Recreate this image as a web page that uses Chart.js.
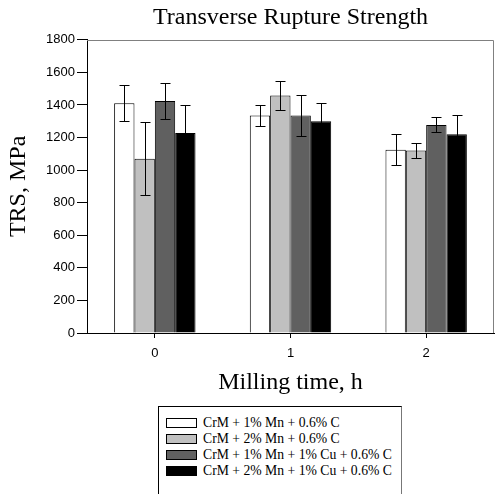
<!DOCTYPE html>
<html>
<head>
<meta charset="utf-8">
<script src="https://cdn.jsdelivr.net/npm/chart.js@4"></script>
<style>
  body { margin: 0; background: #fff; }
  #wrap { position: relative; width: 496px; height: 494px; overflow: hidden; }
  #legend {
    position: absolute; left: 158px; top: 406px; width: 244px; height: 100px;
    border: 1px solid #000; border-right-color: #777; box-sizing: border-box;
    font-family: "Liberation Serif", "Times New Roman", serif; font-size: 13.7px; color: #000;
    padding: 8px 0 0 7px;
  }
  .row { height: 16px; line-height: 16px; white-space: nowrap; }
  .sw { display: inline-block; width: 29px; height: 8px; border: 1px solid #000; vertical-align: -1px; margin-right: 6px; }
</style>
</head>
<body>
<div id="wrap">
  <canvas id="myChart" width="496" height="400"></canvas>
  <div id="legend"></div>
</div>
<script>
// Milling time categories
const labels = ['0', '1', '2'];

// Series names
const seriesNames = [
    'CrM + 1% Mn + 0.6% C',
    'CrM + 2% Mn + 0.6% C',
    'CrM + 1% Mn + 1% Cu + 0.6% C',
    'CrM + 2% Mn + 1% Cu + 0.6% C'
];

// Mean TRS values (MPa)
const mn1 = [1410, 1335, 1125];
const mn2 = [1070, 1458, 1120];
const mn1cu = [1425, 1335, 1277];
const mn2cu = [1228, 1300, 1220];

// Error bar half-widths (MPa)
const err1 = [110, 62, 95];
const err2 = [225, 92, 44];
const err1cu = [110, 127, 46];
const err2cu = [172, 112, 117];

const fills = ['#ffffff', '#c0c0c0', '#606060', '#000000'];

// Draws +/- error bars on top of each bar
const errorBars = {
    id: 'errorBars',
    afterDatasetsDraw(chart) {
        const ctx = chart.ctx;
        const y = chart.scales.y;
        ctx.save();
        ctx.strokeStyle = '#000';
        ctx.lineWidth = 1;
        chart.data.datasets.forEach((ds, i) => {
            const meta = chart.getDatasetMeta(i);
            meta.data.forEach((bar, j) => {
                const v = ds.data[j];
                const e = ds.errors[j];
                const top = Math.round(y.getPixelForValue(v + e)) + 0.5;
                const bot = Math.round(y.getPixelForValue(v - e)) + 0.5;
                const x = Math.round(bar.x) + 0.5;
                ctx.beginPath();
                ctx.moveTo(x, top); ctx.lineTo(x, bot);
                ctx.moveTo(x - 5, top); ctx.lineTo(x + 5, top);
                ctx.moveTo(x - 5, bot); ctx.lineTo(x + 5, bot);
                ctx.stroke();
            });
        });
        ctx.restore();
    }
};

// Gray top and right edges of the plot frame
const frame = {
    id: 'frame',
    beforeDatasetsDraw(chart) {
        const { ctx, chartArea: a } = chart;
        ctx.save();
        ctx.strokeStyle = '#808080';
        ctx.lineWidth = 1;
        ctx.beginPath();
        ctx.moveTo(a.left, Math.round(a.top) + 0.5);
        ctx.lineTo(Math.round(a.right) - 0.5, Math.round(a.top) + 0.5);
        ctx.lineTo(Math.round(a.right) - 0.5, a.bottom);
        ctx.stroke();
        ctx.restore();
    }
};

const series = [mn1, mn2, mn1cu, mn2cu];
const errs = [err1, err2, err1cu, err2cu];

const ctx = document.getElementById('myChart').getContext('2d');
const myChart = new Chart(ctx, {
    type: 'bar',
    data: {
        labels: labels,
        datasets: series.map((d, i) => ({
            label: seriesNames[i],
            data: d,
            errors: errs[i],
            backgroundColor: fills[i],
            borderColor: '#000',
            borderWidth: 1,
            borderSkipped: 'bottom'
        }))
    },
    options: {
        responsive: false,
        animation: false,
        layout: { padding: { left: 0, right: 2, top: 0, bottom: 0 } },
        plugins: {
            legend: { display: false },
            tooltip: { enabled: false },
            title: {
                display: true,
                fullSize: false, // centre over the plot area
                text: 'Transverse Rupture Strength',
                color: '#000',
                font: { family: 'Liberation Serif', size: 24, weight: 'normal', lineHeight: 1.2 },
                padding: { top: 3, bottom: 8 }
            }
        },
        datasets: { bar: { categoryPercentage: 0.6, barPercentage: 1.0 } },
        scales: {
            x: {
                grid: { offset: false, drawOnChartArea: false, tickLength: 5, color: '#000' },
                border: { color: '#000' },
                ticks: { color: '#000', padding: 8, font: { family: 'Liberation Sans', size: 13 } },
                title: {
                    display: true,
                    text: 'Milling time, h',
                    color: '#000',
                    font: { family: 'Liberation Serif', size: 24 },
                    padding: { top: 10, bottom: 3 }
                },
                afterFit(scale) { scale.height = 67; }
            },
            y: {
                min: 0,
                max: 1800,
                ticks: {
                    stepSize: 200,
                    color: '#000',
                    padding: 2,
                    font: { family: 'Liberation Sans', size: 13 },
                    callback: (v) => String(v)
                },
                grid: { drawOnChartArea: false, tickLength: 10, color: '#000' },
                border: { color: '#000' },
                title: {
                    display: true,
                    text: 'TRS, MPa',
                    color: '#000',
                    font: { family: 'Liberation Serif', size: 24 },
                    padding: { top: 4, bottom: 0 }
                },
                afterFit(scale) { scale.width = 87; }
            }
        }
    },
    plugins: [frame, errorBars]
});

// HTML legend built from the datasets
const legend = document.getElementById('legend');
myChart.data.datasets.forEach((ds) => {
    const row = document.createElement('div');
    row.className = 'row';
    const sw = document.createElement('span');
    sw.className = 'sw';
    sw.style.background = ds.backgroundColor;
    row.appendChild(sw);
    row.appendChild(document.createTextNode(ds.label));
    legend.appendChild(row);
});
</script>
</body>
</html>
